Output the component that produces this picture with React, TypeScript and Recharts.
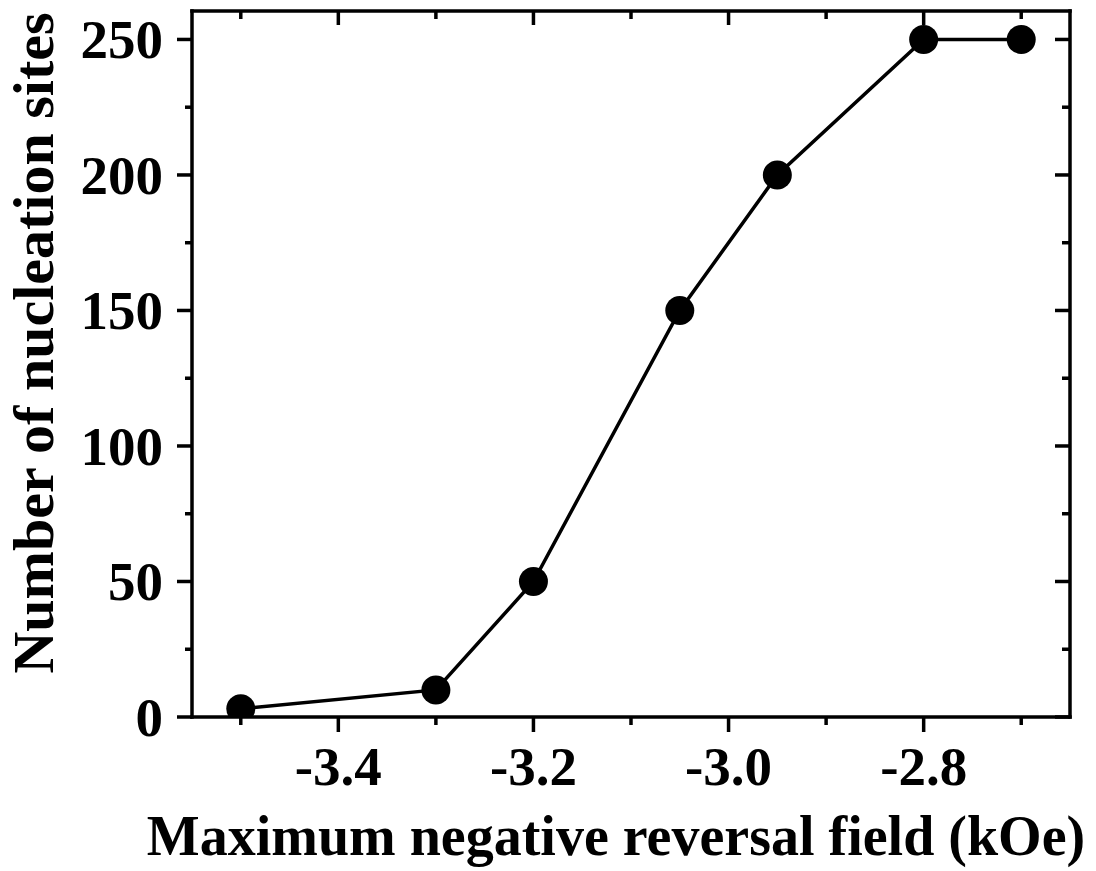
import { Line, LineChart, XAxis, YAxis, Label } from "recharts";

const fieldValues: number[] = [-3.5, -3.3, -3.2, -3.05, -2.95, -2.8, -2.7];
const siteCounts: number[] = [3, 10, 50, 150, 200, 250, 250];

const xTicks: number[] = [-3.5, -3.4, -3.3, -3.2, -3.1, -3.0, -2.9, -2.8, -2.7];
const yTicks: number[] = [0, 25, 50, 75, 100, 125, 150, 175, 200, 225, 250];

const xTitle = "Maximum negative reversal field (kOe)";
const yTitle = "Number of nucleation sites";

const data = fieldValues.map((x, i) => ({ field: x, sites: siteCounts[i] }));

const FONT = "'Liberation Serif', 'Times New Roman', serif";
const FONT_SIZE = 55;
const MAJOR = 15;
const MINOR = 8;
const SW = 3.5;

const isMajorX = (v: number) => Math.abs(Math.round(v * 10)) % 2 === 0;
const isMajorY = (v: number) => Math.round(v) % 50 === 0;

type TickProps = { x?: number; y?: number; payload?: { value: number } };

function BottomTick({ x = 0, y = 0, payload }: TickProps) {
  const v = payload?.value ?? 0;
  const major = isMajorX(v);
  return (
    <g>
      <line x1={x} y1={y} x2={x} y2={y + (major ? MAJOR : MINOR)} stroke="#000" strokeWidth={SW} />
      {major && (
        <text x={x} y={y + 68} textAnchor="middle" fontFamily={FONT} fontWeight="bold" fontSize={FONT_SIZE} fill="#000">
          {v.toFixed(1)}
        </text>
      )}
    </g>
  );
}

function TopTick({ x = 0, y = 0, payload }: TickProps) {
  const v = payload?.value ?? 0;
  const major = isMajorX(v);
  return <line x1={x} y1={y} x2={x} y2={y + (major ? MAJOR - 1 : MINOR)} stroke="#000" strokeWidth={SW} />;
}

function LeftTick({ x = 0, y = 0, payload }: TickProps) {
  const v = payload?.value ?? 0;
  const major = isMajorY(v);
  return (
    <g>
      <line x1={x} y1={y} x2={x - (major ? MAJOR : MINOR - 1)} y2={y} stroke="#000" strokeWidth={SW} />
      {major && (
        <text x={x - 29} y={y} dy="0.34em" textAnchor="end" fontFamily={FONT} fontWeight="bold" fontSize={FONT_SIZE} fill="#000">
          {v}
        </text>
      )}
    </g>
  );
}

function RightTick({ x = 0, y = 0, payload }: TickProps) {
  const v = payload?.value ?? 0;
  const major = isMajorY(v);
  return <line x1={x} y1={y} x2={x - (major ? MAJOR : MINOR)} y2={y} stroke="#000" strokeWidth={SW} />;
}

const axisLine = { stroke: "#000", strokeWidth: SW, strokeLinecap: "square" as const };

export default function App() {
  return (
    <div style={{ position: "absolute", left: 0, top: 0, background: "#fff" }}>
      <LineChart width={1096} height={871} data={data} margin={{ top: 10, right: 25, left: 0, bottom: 0 }}>
        <XAxis
          dataKey="field"
          type="number"
          domain={[-3.55, -2.65]}
          ticks={xTicks}
          interval={0}
          height={154}
          tickSize={0}
          tickMargin={0}
          tickLine={false}
          axisLine={axisLine}
          tick={<BottomTick />}
          allowDataOverflow
        >
          <Label
            content={() => (
              <text x={616} y={855} textAnchor="middle" fontFamily={FONT} fontWeight="bold" fontSize={56} fill="#000">
                {xTitle}
              </text>
            )}
          />
        </XAxis>
        <XAxis
          xAxisId="top"
          dataKey="field"
          type="number"
          orientation="top"
          domain={[-3.55, -2.65]}
          ticks={xTicks}
          interval={0}
          height={1}
          tickSize={0}
          tickMargin={0}
          tickLine={false}
          axisLine={axisLine}
          tick={<TopTick />}
          allowDataOverflow
        />
        <YAxis
          type="number"
          domain={[0, 260.5]}
          ticks={yTicks}
          interval={0}
          width={192}
          tickSize={0}
          tickMargin={0}
          tickLine={false}
          axisLine={axisLine}
          tick={<LeftTick />}
          allowDataOverflow
        >
          <Label
            content={() => (
              <text
                x={53}
                y={343}
                transform="rotate(-90 53 343)"
                textAnchor="middle"
                fontFamily={FONT}
                fontWeight="bold"
                fontSize={58}
                fill="#000"
              >
                {yTitle}
              </text>
            )}
          />
        </YAxis>
        <YAxis
          yAxisId="right"
          orientation="right"
          type="number"
          domain={[0, 260.5]}
          ticks={yTicks}
          interval={0}
          width={1}
          tickSize={0}
          tickMargin={0}
          tickLine={false}
          axisLine={axisLine}
          tick={<RightTick />}
          allowDataOverflow
        />
        <Line
          dataKey="sites"
          stroke="#000"
          strokeWidth={SW}
          dot={{ r: 14.5, fill: "#000", stroke: "#000", strokeWidth: 0 }}
          activeDot={false}
          isAnimationActive={false}
        />
      </LineChart>
    </div>
  );
}
